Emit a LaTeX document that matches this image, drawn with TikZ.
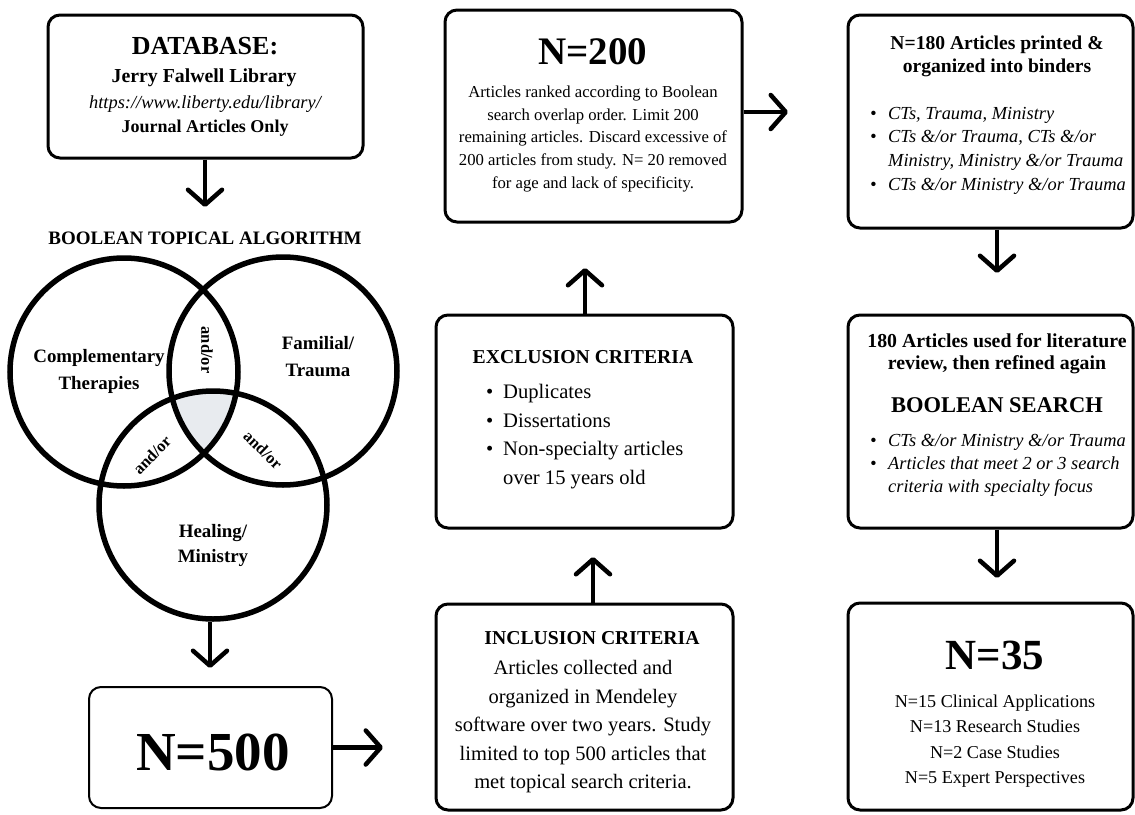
\documentclass[tikz,border=0pt]{standalone}
\usepackage{fontspec}
\setmainfont{Liberation Serif}
\usetikzlibrary{arrows.meta}
\definecolor{venngray}{HTML}{E8EBEF}
\newcommand{\fs}[2]{\fontsize{#1}{#2}\selectfont}
\newcommand{\bulA}{\makebox[17pt][l]{\textbullet}}
\newcommand{\indA}{\hspace*{17pt}}
\newcommand{\bulB}{\makebox[18pt][l]{\textbullet}}
\newcommand{\indB}{\hspace*{18pt}}
\begin{document}
\begin{tikzpicture}[x=1pt,y=-1pt,
  box/.style={draw, line width=3pt, rounded corners=12pt, inner sep=0pt},
  vc/.style={circle, draw, line width=5.5pt, minimum size=228pt, inner sep=0pt},
  arr/.style={line width=4.5pt, -{Straight Barb[length=15pt,width=34pt,round]}},
  txt/.style={inner sep=0pt, align=center}]
\useasboundingbox (0,0) rectangle (1135,814);
\fill[white] (0,0) rectangle (1135,814);

% ---------- Venn ----------
\coordinate (v1) at (124,372);
\coordinate (v2) at (283,371);
\coordinate (v3) at (213,505);
\begin{scope}
  \clip (v1) circle[radius=114pt];
  \clip (v2) circle[radius=114pt];
  \fill[venngray] (v3) circle[radius=114pt];
\end{scope}
\node[vc] (c1) at (v1) {};
\node[vc] (c2) at (v2) {};
\node[vc] (c3) at (v3) {};
\node[txt, font=\bfseries\fs{18.9}{27}] (lc1) at (99,371) {Complementary\\Therapies};
\node[txt, font=\bfseries\fs{18.9}{27}] (lc2) at (318,356.5) {Familial/\\Trauma};
\node[txt, font=\bfseries\fs{18.9}{25}] (lc3) at (213,545.5) {Healing/\\Ministry};
\node[txt, font=\bfseries\fs{16.5}{20}, rotate=-90] (ao1) at (207,350) {and/or};
\node[txt, font=\bfseries\fs{16.5}{20}, rotate=46] (ao2) at (152,455) {and/or};
\node[txt, font=\bfseries\fs{16.5}{20}, rotate=-44] (ao3) at (263,450) {and/or};

% ---------- Left column ----------
\node[box, minimum width=315pt, minimum height=143pt] (db) at (205.5,86.5) {};
\node[txt, font=\bfseries\fs{26}{30}] (dbt) at (205,46) {DATABASE:};
\node[txt, font=\bfseries\fs{19.8}{22}] (dbl) at (204,78) {Jerry Falwell Library};
\node[txt, font=\itshape\fs{18.4}{20}] (dbu) at (205,104) {https://www.liberty.edu/library/};
\node[txt, font=\bfseries\fs{18}{20}] (dbj) at (205,128) {Journal Articles Only};
\node[txt, font=\bfseries\fs{19}{22}] (bta) at (205,238) {BOOLEAN TOPICAL ALGORITHM};

\node[draw, line width=2pt, rounded corners=12pt, inner sep=0pt, minimum width=243pt, minimum height=121pt] (n500) at (210.5,747.5) {};
\node[txt, font=\bfseries\fs{55}{60}] (n500t) at (213,752) {N=500};

% ---------- Middle column ----------
\node[box, minimum width=297pt, minimum height=212pt] (n200) at (593.5,116) {};
\node[txt, font=\bfseries\fs{39}{44}] (n200t) at (593,52) {N=200};
\node[txt, font=\fs{16.7}{22.6}] (n200b) at (593,139) {Articles ranked according to Boolean\\search overlap order. Limit 200\\remaining articles. Discard excessive of\\200 articles from study. N= 20 removed\\for age and lack of specificity.};

\node[box, minimum width=297pt, minimum height=213pt] (excl) at (584.5,421.5) {};
\node[txt, font=\bfseries\fs{19.7}{22}] (exclt) at (583,357) {EXCLUSION CRITERIA};
\node[inner sep=0pt, align=left, anchor=west, font=\fs{20.6}{28.4}] (excll) at (486,436.5) {\bulA Duplicates\\\bulA Dissertations\\\bulA Non-specialty articles\\\indA over 15 years old};

\node[box, minimum width=297pt, minimum height=206pt] (incl) at (584.5,707) {};
\node[txt, font=\bfseries\fs{19.7}{22}] (inclt) at (592,638) {INCLUSION CRITERIA};
\node[txt, font=\fs{20.5}{28.5}] (inclb) at (583,727) {Articles collected and\\organized in Mendeley\\software over two years. Study\\limited to top 500 articles that\\met topical search criteria.};

% ---------- Right column ----------
\node[box, minimum width=285pt, minimum height=213pt] (r1) at (990.5,121.5) {};
\node[txt, font=\bfseries\fs{19.6}{23}] (r1t) at (997,56.5) {N=180 Articles printed \&\\organized into binders};
\node[inner sep=0pt, align=left, anchor=west, font=\itshape\fs{18.4}{23.7}] (r1l) at (870,150.5) {\bulB CTs, Trauma, Ministry\\\bulB CTs \&/or Trauma, CTs \&/or\\\indB Ministry, Ministry \&/or Trauma\\\bulB CTs \&/or Ministry \&/or Trauma};

\node[box, minimum width=285pt, minimum height=213pt] (r2) at (990.5,421.5) {};
\node[txt, font=\bfseries\fs{19.8}{22}] (r2t) at (997,354) {180 Articles used for literature\\review, then refined again};
\node[txt, font=\bfseries\fs{22.5}{26}] (r2s) at (997,405) {BOOLEAN SEARCH};
\node[inner sep=0pt, align=left, anchor=west, font=\itshape\fs{18.4}{23}] (r2l) at (870,465) {\bulB CTs \&/or Ministry \&/or Trauma\\\bulB Articles that meet 2 or 3 search\\\indB criteria with specialty focus};

\node[box, minimum width=285pt, minimum height=207pt] (r3) at (990.5,706.5) {};
\node[txt, font=\bfseries\fs{43}{48}] (r3t) at (995,655) {N=35};
\node[txt, font=\fs{18.1}{25.3}] (r3b) at (995,741) {N=15 Clinical Applications\\N=13 Research Studies\\N=2 Case Studies\\N=5 Expert Perspectives};

% ---------- Arrows ----------
\coordinate (t1) at (205,207);
\coordinate (t2) at (210,668);
\coordinate (t3) at (383,747.5);
\coordinate (t4) at (593,557);
\coordinate (t5) at (585,268);
\coordinate (t6) at (788,112);
\coordinate (t7) at (997,273);
\coordinate (t8) at (997,578);
\draw[arr] (db.south -| t1) -- (t1);
\draw[arr] (c3.south -| t2) -- (t2);
\draw[arr] (n500.east) -- (t3);
\draw[arr] (incl.north -| t4) -- (t4);
\draw[arr] (excl.north -| t5) -- (t5);
\draw[arr] (n200.east |- t6) -- (t6);
\draw[arr] (r1.south -| t7) -- (t7);
\draw[arr] (r2.south -| t8) -- (t8);
\end{tikzpicture}
\end{document}
